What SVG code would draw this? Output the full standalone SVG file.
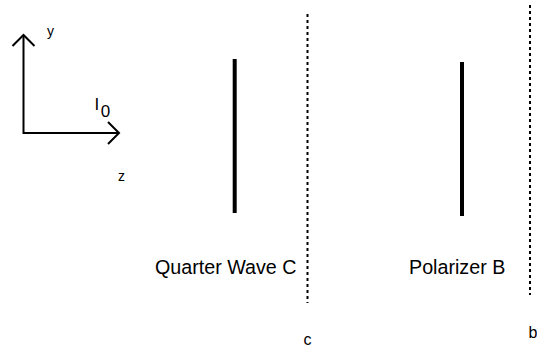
<svg xmlns="http://www.w3.org/2000/svg" width="537" height="347" viewBox="0 0 537 347">
<style>
.ax{stroke:#000;stroke-width:2;fill:none}
.el{stroke:#000;stroke-width:4}
.dot{stroke:#000;stroke-width:2;stroke-dasharray:3 3}
text{font-family:"Liberation Sans",Arial,sans-serif;fill:#000}
</style>
<rect width="537" height="347" fill="#fff"/>
<g id="axes">
<path class="ax" d="M23.5,35 V133 H119"/>
<path class="ax" d="M12.5,46 L23.5,35 L34.5,46"/>
<path class="ax" d="M108,122 L119,133 L108,144"/>
<text x="47" y="36" font-size="14">y</text>
<text x="118" y="180.5" font-size="14">z</text>
<text x="94.5" y="110" font-size="17">I<tspan dx="1.5" dy="6.5">0</tspan></text>
</g>
<g id="quarter-wave">
<line class="el" x1="234.7" y1="59" x2="234.7" y2="213"/>
<text x="155" y="274" font-size="19.7">Quarter Wave C</text>
</g>
<g id="polarizer">
<line class="el" x1="462" y1="62" x2="462" y2="216"/>
<text x="409" y="274" font-size="19.7">Polarizer B</text>
</g>
<g id="plane-c">
<line class="dot" x1="307.5" y1="14" x2="307.5" y2="303"/>
<text x="307.5" y="345" font-size="16" text-anchor="middle">c</text>
</g>
<g id="plane-b">
<line class="dot" x1="530" y1="5" x2="530" y2="295"/>
<text x="528.5" y="338" font-size="16">b</text>
</g>
</svg>
